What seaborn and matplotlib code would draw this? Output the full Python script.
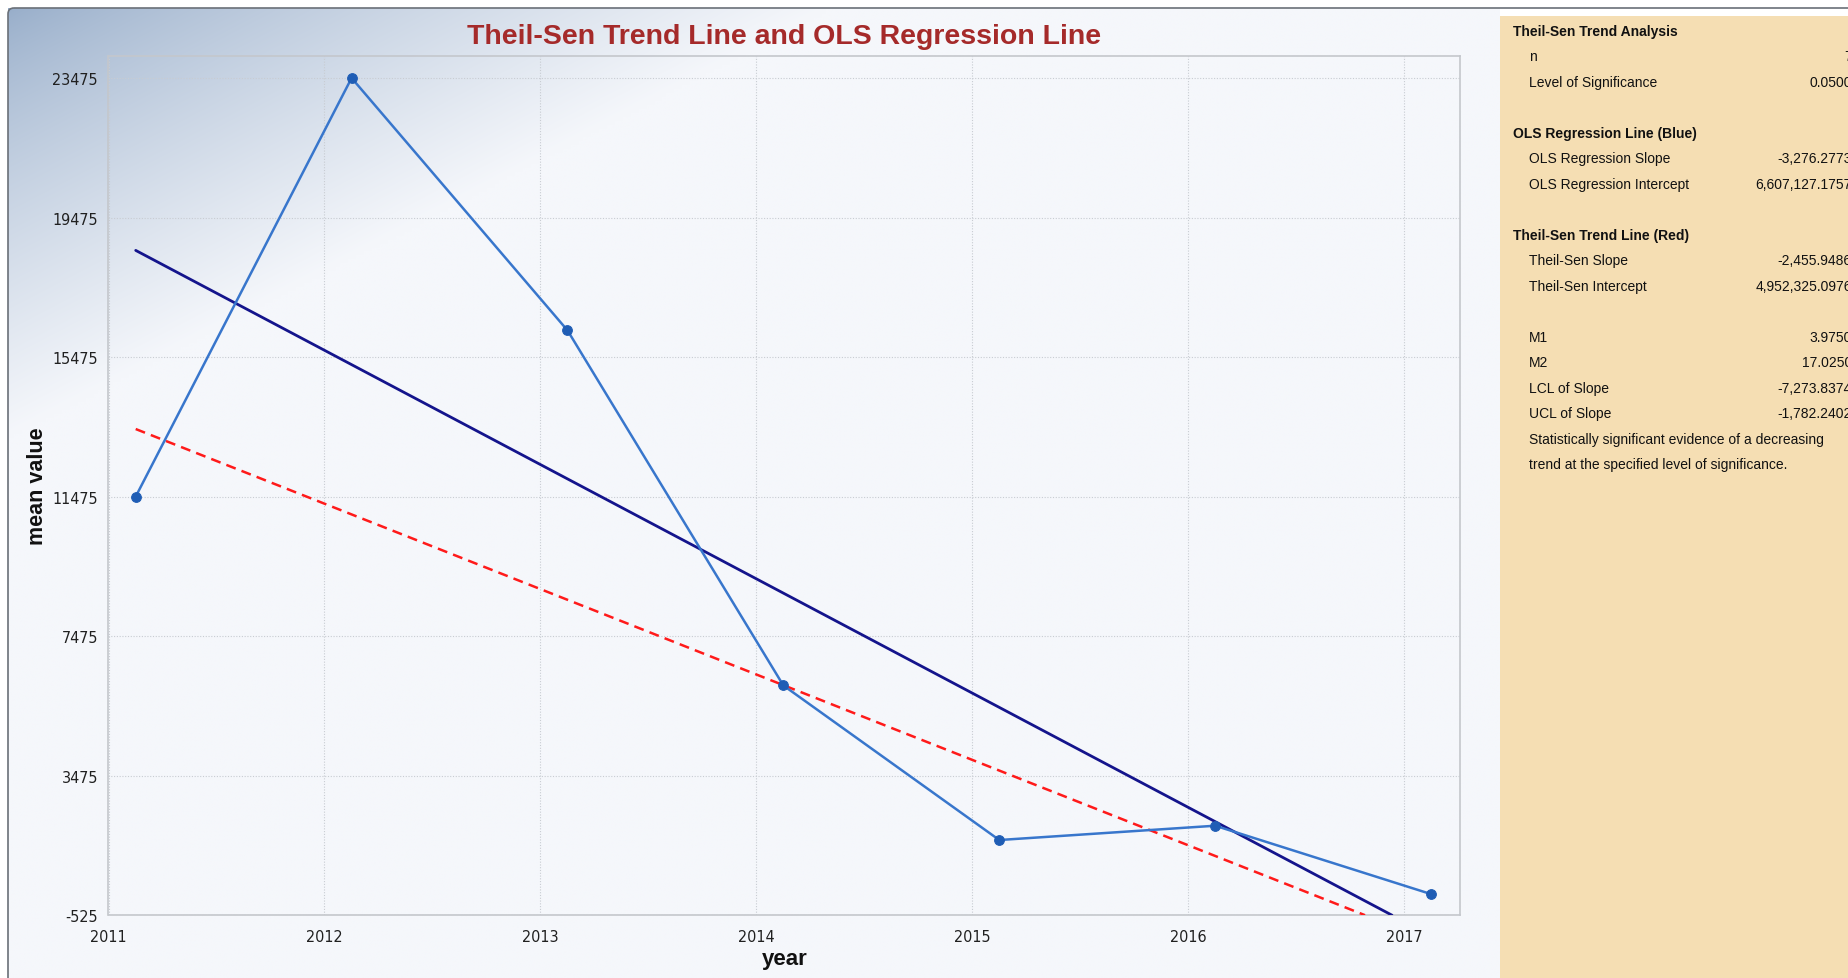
import numpy as np
import pandas as pd
import matplotlib
matplotlib.use('Agg')
import matplotlib.pyplot as plt
from matplotlib import font_manager
from matplotlib.patches import Rectangle, FancyBboxPatch
import seaborn as sns

# data
years = [2011.126, 2012.126, 2013.126, 2014.126, 2015.126, 2016.126, 2017.126]
mean_value = [11475, 23475, 16240, 6060, 1630, 2040, 80]

ols_x = [2011.126, 2016.945]
ols_y = [18533, -525]
ts_x = [2011.126, 2016.82]
ts_y = [13412, -525]

x_ticks = [2011, 2012, 2013, 2014, 2015, 2016, 2017]
y_ticks = [-525, 3475, 7475, 11475, 15475, 19475, 23475]

panel_rows = [
    ('Theil-Sen Trend Analysis', '', True),
    ('n', '7', False),
    ('Level of Significance', '0.0500', False),
    ('', '', False),
    ('OLS Regression Line (Blue)', '', True),
    ('OLS Regression Slope', '-3,276.2773', False),
    ('OLS Regression Intercept', '6,607,127.1757', False),
    ('', '', False),
    ('Theil-Sen Trend Line (Red)', '', True),
    ('Theil-Sen Slope', '-2,455.9486', False),
    ('Theil-Sen Intercept', '4,952,325.0976', False),
    ('', '', False),
    ('M1', '3.9750', False),
    ('M2', '17.0250', False),
    ('LCL of Slope', '-7,273.8374', False),
    ('UCL of Slope', '-1,782.2402', False),
    ('Statistically significant evidence of a decreasing', '', False),
    ('trend at the specified level of significance.', '', False),
]

sns.set_theme(style='white')
plt.rcParams['font.family'] = ['Liberation Sans', 'DejaVu Sans']

# a narrow face for the tick labels, if one is installed
narrow_file = None
for f in font_manager.fontManager.ttflist:
    fn = f.fname.lower()
    if 'liberationsansnarrow-regular' in fn:
        narrow_file = f.fname
        break
if narrow_file is None:
    for f in font_manager.fontManager.ttflist:
        if f.fname.lower().endswith('dejavusanscondensed.ttf'):
            narrow_file = f.fname
            break
if narrow_file:
    tick_font = font_manager.FontProperties(fname=narrow_file, size=11.5)
else:
    tick_font = font_manager.FontProperties(family='Liberation Sans', size=11)

W, H = 1849, 979
fig = plt.figure(figsize=(W / 100, H / 100), dpi=100)
fig.patch.set_facecolor('white')

# chart background with blue gradient in top-left corner
bg_ax = fig.add_axes([0, 0, 1, 1], zorder=0)
bg_ax.set_xlim(0, W)
bg_ax.set_ylim(H, 0)
bg_ax.axis('off')
gx, gy = np.meshgrid(np.arange(0, 1500, 4), np.arange(0, 979, 4))
d = np.clip(gx / 820 + gy / 430, 0, 1) ** 0.8
corner = np.array([152, 174, 202]) / 255
base = np.array([245, 247, 251]) / 255
img = corner[None, None, :] * (1 - d[..., None]) + base[None, None, :] * d[..., None]
bg_ax.imshow(img, extent=[8, 1500, 979, 9], aspect='auto', interpolation='bilinear')
bg_ax.add_patch(FancyBboxPatch((8, 9), 2400, 1200, boxstyle='round,pad=0,rounding_size=6',
                               fill=False, edgecolor='#6a7078', lw=1.2))
bg_ax.add_patch(Rectangle((1500, 17), W - 1500, H - 17, facecolor='#F5DEB3', edgecolor='none'))

# main plot
ax = fig.add_axes([108.5 / W, 1 - 916.2 / H, (1460 - 108.5) / W, (916.2 - 56.6) / H], zorder=2)
ax.patch.set_alpha(0)

df = pd.DataFrame({'year': years, 'mean value': mean_value})
sns.lineplot(data=df, x='year', y='mean value', ax=ax, color='#3876CC', lw=1.8,
             marker='o', markersize=7, markerfacecolor='#1F5DB5', markeredgecolor='#1F5DB5',
             zorder=4)
sns.lineplot(x=ols_x, y=ols_y, ax=ax, color='#14148C', lw=2.0, zorder=3)
sns.lineplot(x=ts_x, y=ts_y, ax=ax, color='#FF1A1A', lw=1.8, linestyle=(0, (4, 2.5)), zorder=3)

ax.set_xlim(2011, 2017.26)
ax.set_ylim(-525, 24117)
ax.set_xticks(x_ticks)
ax.set_yticks(y_ticks)
ax.set_xticklabels([str(v) for v in x_ticks], fontproperties=tick_font, color='#202020')
ax.set_yticklabels([str(v) for v in y_ticks], fontproperties=tick_font, color='#202020')
ax.grid(True, color='#c8ccd2', linestyle=(0, (1, 1.5)), lw=0.8)
ax.tick_params(axis='x', length=0, pad=10)
ax.tick_params(axis='y', length=5, color='#d0d3d8', pad=2.5)
for s in ax.spines.values():
    s.set_color('#c4c7cc')
    s.set_linewidth(1.2)

ax.set_xlabel('year', fontsize=16, fontweight='bold', labelpad=3, color='#111111')
ax.set_ylabel('mean value', fontsize=15.5, fontweight='bold', labelpad=2, color='#111111')
ax.yaxis.set_label_coords(-0.045, 0.5)
ax.set_title('Theil-Sen Trend Line and OLS Regression Line', fontsize=20.5, fontweight='bold',
             color='#A52A2A', pad=9)

# statistics panel
y0 = 31.8
step = 25.5
for i, (label, value, bold) in enumerate(panel_rows):
    yy = y0 + i * step
    if bold:
        bg_ax.text(1513, yy, label, fontsize=10, fontweight='bold', va='center', ha='left',
                   color='#111111', zorder=5)
    else:
        bg_ax.text(1529, yy, label, fontsize=10, va='center', ha='left', color='#111111', zorder=5)
    if value:
        bg_ax.text(1852, yy, value, fontsize=10, va='center', ha='right', color='#111111', zorder=5)

fig.savefig('out.png', dpi=100)
